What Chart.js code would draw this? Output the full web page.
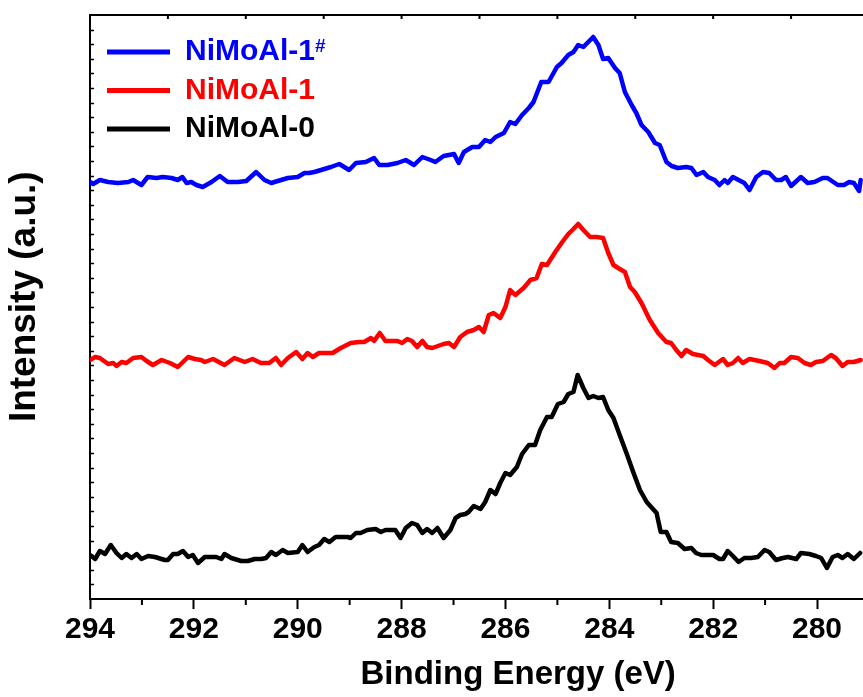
<!DOCTYPE html>
<html>
<head>
<meta charset="utf-8">
<script src="https://cdn.jsdelivr.net/npm/chart.js@4.4.0/dist/chart.umd.min.js"></script>
<style>
  html, body { margin: 0; padding: 0; background: #fff; overflow: hidden; }
  #wrap { width: 863px; height: 697px; overflow: hidden; position: relative; }
  canvas { display: block; }
</style>
</head>
<body>
<div id="wrap"><canvas id="c" width="949" height="697"></canvas></div>
<script>
// ---- Data (binding energy in eV, intensity in a.u., curves stacked with offsets) ----
const seriesNames = ['NiMoAl-1#', 'NiMoAl-1', 'NiMoAl-0'];
const seriesColors = ['#0000ff', '#ff0000', '#000000'];

const energyA = [294.00,293.94,293.81,293.65,293.46,293.26,293.17,293.01,292.89,292.72,292.60,292.43,292.31,292.22,292.14,292.05,291.95,291.83,291.66,291.50,291.35,291.15,290.99,290.80,290.64,290.51,290.32,290.19,290.00,289.87,289.78,289.68,289.55,289.36,289.20,289.01,288.88,288.69,288.53,288.43,288.27,288.08,287.92,287.76,287.60,287.44,287.35,287.19,286.99,286.90,286.80,286.64,286.51,286.39,286.29,286.19,286.03,285.91,285.81,285.68,285.55,285.46,285.31,285.17,285.01,284.92,284.79,284.69,284.60,284.50,284.31,284.21,284.12,284.02,283.89,283.80,283.70,283.57,283.48,283.38,283.25,283.12,283.03,282.90,282.80,282.68,282.52,282.42,282.32,282.19,282.10,281.97,281.88,281.78,281.72,281.62,281.40,281.30,281.17,281.04,280.92,280.79,280.69,280.60,280.50,280.31,280.18,280.05,279.89,279.80,279.60,279.48,279.38,279.29,279.19,279.16];
const intensityA = [417,415,419,417,416,417,419,414,422,421,422,421,419,422,416,417,414,412,417,423,417,417,418,427,419,416,419,421,422,426,426,427,429,432,435,429,436,437,441,434,434,436,439,434,442,439,437,443,445,436,447,452,452,459,457,462,466,477,475,484,491,497,517,517,532,536,544,547,554,552,562,554,540,541,531,526,507,494,486,474,467,456,454,437,433,431,432,431,424,427,422,419,414,419,416,422,416,409,422,427,426,419,419,422,413,422,416,417,421,421,414,414,417,416,408,419];

const energyB = [294.00,293.90,293.81,293.65,293.55,293.49,293.39,293.30,293.17,293.01,292.91,292.79,292.62,292.46,292.31,292.11,291.98,291.86,291.79,291.63,291.41,291.22,291.02,290.87,290.71,290.55,290.42,290.32,290.19,290.03,289.91,289.81,289.71,289.59,289.33,289.17,288.98,288.82,288.72,288.59,288.53,288.42,288.31,288.08,287.99,287.89,287.80,287.70,287.60,287.51,287.41,287.19,287.09,286.99,286.87,286.74,286.61,286.51,286.42,286.32,286.23,286.10,286.00,285.91,285.81,285.65,285.52,285.40,285.30,285.20,285.04,284.92,284.79,284.69,284.60,284.50,284.37,284.24,284.12,284.02,283.92,283.83,283.70,283.60,283.51,283.38,283.22,283.06,282.90,282.81,282.71,282.61,282.52,282.39,282.19,282.10,281.97,281.81,281.72,281.62,281.52,281.43,281.30,281.11,280.95,280.82,280.72,280.63,280.50,280.37,280.24,280.12,280.02,279.89,279.73,279.64,279.51,279.41,279.29,279.16];
const intensityB = [239,242,241,235,236,233,237,236,241,242,238,234,239,236,232,242,240,239,237,240,234,241,237,240,236,236,241,234,241,247,240,246,242,246,246,251,256,257,257,261,258,266,258,258,256,260,258,252,258,252,251,255,256,252,262,267,269,272,267,284,286,281,292,309,304,311,319,321,335,334,347,356,365,370,375,369,362,362,361,346,334,331,327,312,307,296,279,266,257,256,249,243,249,245,243,239,234,240,234,236,241,236,240,238,236,231,236,236,242,241,236,234,237,238,244,241,233,237,237,239];

const energyC = [294.00,293.90,293.81,293.71,293.60,293.49,293.39,293.30,293.20,293.10,293.01,292.88,292.75,292.56,292.50,292.40,292.31,292.21,292.11,292.02,291.92,291.79,291.57,291.47,291.41,291.28,291.09,290.96,290.83,290.70,290.61,290.51,290.42,290.29,290.19,290.00,289.91,289.81,289.68,289.59,289.49,289.39,289.27,289.04,288.98,288.88,288.79,288.66,288.50,288.40,288.31,288.12,288.02,287.92,287.80,287.70,287.60,287.51,287.41,287.31,287.19,287.06,286.96,286.87,286.77,286.71,286.61,286.48,286.39,286.29,286.19,286.10,286.00,285.91,285.78,285.68,285.55,285.43,285.33,285.20,285.11,284.99,284.88,284.79,284.69,284.61,284.50,284.40,284.31,284.21,284.12,284.02,283.92,283.80,283.67,283.54,283.41,283.28,283.09,283.01,282.90,282.81,282.68,282.55,282.42,282.33,282.23,282.00,281.88,281.81,281.72,281.62,281.51,281.40,281.27,281.14,281.01,280.92,280.79,280.66,280.56,280.40,280.31,280.15,280.02,279.92,279.81,279.70,279.60,279.51,279.41,279.29,279.17];
const intensityC = [44,40,48,45,54,46,41,45,41,45,40,43,42,39,39,45,45,48,42,44,36,42,42,40,45,41,38,38,40,40,41,47,44,49,46,47,54,47,52,54,60,57,62,62,61,66,66,69,70,67,69,69,61,71,76,74,66,70,66,71,61,69,81,84,85,87,93,90,97,109,105,116,126,124,132,145,154,154,169,182,182,195,197,205,207,224,211,201,203,201,202,189,181,164,146,127,109,97,86,67,67,57,56,50,51,46,44,44,40,40,48,43,37,41,41,42,49,47,39,41,42,40,46,45,43,41,31,42,44,41,45,40,46];

// axis ranges and ticks (the figure is cropped on its right side)
const xMin = 277.51, xMax = 294;
const yMin = 0, yMax = 584;
const xTickValues = [294, 292, 290, 288, 286, 284, 282, 280, 278];
const xMinorTicks = [293, 291, 289, 287, 285, 283, 281, 279];
const xTopTicks = [292.5, 291, 289.5, 288, 286.5, 285, 283.5, 282, 280.5, 279];
const yMinorStep = 14.6;

function pairs(xs, ys) {
  const n = Math.min(xs.length, ys.length);
  const out = [];
  for (let i = 0; i < n; i++) out.push({ x: xs[i], y: ys[i] });
  return out;
}

const FONT = "'Liberation Sans', Arial, Helvetica, sans-serif";
Chart.defaults.font.family = FONT;
Chart.defaults.color = '#000';

const LEGEND_FONT = 30, LEGEND_BOX = 63, LEGEND_PAD = 8.5;

const decor = {
  id: 'decor',
  afterLayout(chart) {
    const lg = chart.legend, ca = chart.chartArea;
    if (lg) { lg.left = ca.left + 8.5; lg.top = ca.top + 13.5; }
  },
  afterDraw(chart) {
    const ctx = chart.ctx, x = chart.scales.x, y = chart.scales.y, ca = chart.chartArea;
    ctx.save();
    ctx.strokeStyle = '#000';
    ctx.lineCap = 'butt';
    ctx.lineWidth = 2;
    ctx.beginPath();
    xMinorTicks.forEach(v => { const p = x.getPixelForValue(v); ctx.moveTo(p, ca.bottom); ctx.lineTo(p, ca.bottom + 6); });
    xTopTicks.forEach(v => { const p = x.getPixelForValue(v); ctx.moveTo(p, ca.top); ctx.lineTo(p, ca.top + 4); });
    ctx.stroke();
    ctx.lineWidth = 1.5;
    ctx.beginPath();
    for (let v = yMin + yMinorStep; v < yMax - 1; v += yMinorStep) {
      const p = Math.round(y.getPixelForValue(v)) + 0.5;
      ctx.moveTo(ca.left, p); ctx.lineTo(ca.left + 4, p);
    }
    ctx.stroke();
    // superscript for the first legend entry
    const lg = chart.legend;
    if (lg && lg.legendItems && lg.legendItems.length) {
      const label = seriesNames[0];
      const base = label.replace('#', '');
      ctx.font = 'bold ' + LEGEND_FONT + 'px ' + FONT;
      const w = ctx.measureText(base).width;
      const tx = lg.left + LEGEND_PAD + LEGEND_BOX + LEGEND_FONT / 2 + w;
      const ty = lg.top + LEGEND_PAD + 0.5;
      ctx.font = 'bold 19px ' + FONT;
      ctx.fillStyle = seriesColors[0];
      ctx.textBaseline = 'top';
      ctx.textAlign = 'left';
      ctx.fillText('#', tx, ty);
    }
    ctx.restore();
  }
};

const datasets = [
  { label: seriesNames[0], data: pairs(energyA, intensityA), borderColor: seriesColors[0] },
  { label: seriesNames[1], data: pairs(energyB, intensityB), borderColor: seriesColors[1] },
  { label: seriesNames[2], data: pairs(energyC, intensityC), borderColor: seriesColors[2] }
].map(d => Object.assign(d, {
  backgroundColor: d.borderColor, borderWidth: 4.5, pointRadius: 0, tension: 0,
  borderJoinStyle: 'round', borderCapStyle: 'round', fill: false
}));

new Chart(document.getElementById('c'), {
  type: 'line',
  data: { datasets },
  options: {
    responsive: false,
    animation: false,
    events: [],
    layout: { padding: 0 },
    scales: {
      x: {
        type: 'linear', position: 'bottom', reverse: true, min: xMin, max: xMax,
        afterBuildTicks: s => { s.ticks = xTickValues.map(v => ({ value: v })); },
        afterFit: s => { s.height = 98; },
        grid: { display: true, drawOnChartArea: false, drawTicks: true, tickLength: 10, tickWidth: 2, tickColor: '#000' },
        border: { display: true, color: '#000', width: 2 },
        ticks: { font: { size: 30, weight: 'bold' }, color: '#000', padding: 3, maxRotation: 0, autoSkip: false,
                 callback: v => String(v) },
        title: { display: true, text: 'Binding Energy (eV)', font: { size: 33, weight: 'bold' }, color: '#000', padding: { top: 0, bottom: 2 } }
      },
      x2: {
        type: 'linear', position: 'top', reverse: true, min: xMin, max: xMax,
        afterFit: s => { s.height = 15; },
        grid: { display: false },
        border: { display: true, color: '#000', width: 2 },
        ticks: { display: false }
      },
      y: {
        type: 'linear', position: 'left', min: yMin, max: yMax,
        afterFit: s => { s.width = 90; },
        grid: { display: false },
        border: { display: true, color: '#000', width: 2 },
        ticks: { display: false },
        title: { display: true, text: '  Intensity (a.u.)', font: { size: 37, weight: 'bold' }, color: '#000', padding: { top: 3, bottom: 0 } }
      }
    },
    plugins: {
      tooltip: { enabled: false },
      legend: {
        display: true,
        position: 'chartArea',
        align: 'start',
        labels: {
          boxWidth: LEGEND_BOX, boxHeight: 5, padding: LEGEND_PAD,
          font: { size: LEGEND_FONT, weight: 'bold' },
          generateLabels: chart => chart.data.datasets.map((ds, i) => ({
            text: ds.label.replace('#', ''),
            fillStyle: ds.borderColor, strokeStyle: ds.borderColor, lineWidth: 0,
            fontColor: ds.borderColor, hidden: false, datasetIndex: i
          }))
        }
      }
    }
  },
  plugins: [decor]
});
</script>
</body>
</html>
